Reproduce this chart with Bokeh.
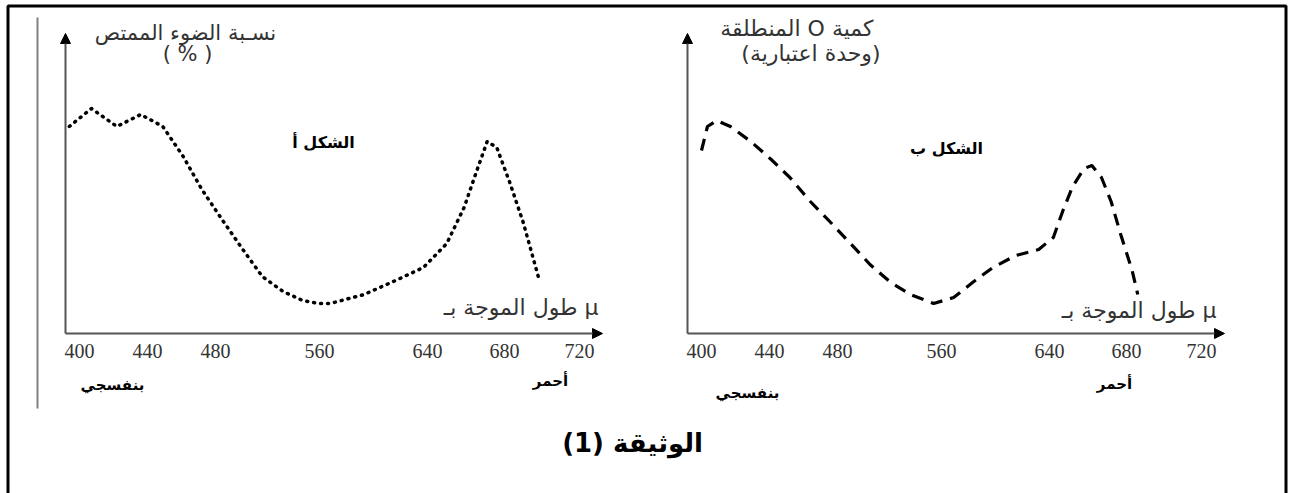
import numpy as np
from bokeh.plotting import figure
from bokeh.models import Range1d, LinearAxis, FixedTicker, Arrow, NormalHead, Label
from bokeh.embed import file_html
from bokeh.resources import INLINE

# ---------------- data ----------------
# x-axis tick labels (wavelength, nm) and their (non-linear) spacing along the drawn axis
tick_wl = [400, 440, 480, 560, 640, 680, 720]
tick_labels = ["400", "440", "480", "560", "640", "680", "720"]
tick_spacing = [14, 82, 150, 254, 362, 439, 514]

# Figure A: absorbed light (%) vs wavelength (dotted curve)
wl_a = [394, 407, 422, 436, 449, 461, 472, 485, 501, 516, 532, 547, 559, 568,
        593, 618, 637, 650, 659, 666, 671, 676, 683, 690, 698]
abs_a = [69, 75, 69, 73, 69, 59, 48, 38, 28, 19, 14, 11, 10, 10,
         13, 18, 22, 30, 42, 55, 64, 62, 50, 37, 19]

# Figure B: released O2 (arbitrary units) vs wavelength (dashed curve)
wl_b = [400, 403.5, 409, 417, 429, 441, 452, 464, 476, 490, 505, 521, 536, 554,
        569, 583, 598, 615, 632, 642, 647, 652, 658, 662, 667, 672, 677, 683, 686]
o2_b = [61, 69, 71, 69, 64, 58, 52, 44, 37, 30, 23, 17, 13, 10,
        12, 17, 22, 26, 28, 32, 41, 49, 55, 56, 52, 44, 33, 21, 13]


def to_axis(w):
    """Map wavelengths onto the drawn (piecewise-linear) wavelength axis."""
    w = np.asarray(w, dtype=float)
    tw = np.asarray(tick_wl, float)
    tp = np.asarray(tick_spacing, float)
    out = np.interp(w, tw, tp)
    lo = (tp[1] - tp[0]) / (tw[1] - tw[0])
    hi = (tp[-1] - tp[-2]) / (tw[-1] - tw[-2])
    out = np.where(w < tw[0], tp[0] + (w - tw[0]) * lo, out)
    out = np.where(w > tw[-1], tp[-1] + (w - tw[-1]) * hi, out)
    return out


# ---------------- canvas ----------------
W, H = 1292, 493
p = figure(width=W, height=H, x_range=Range1d(0, W), y_range=Range1d(-53.33, 111),
           output_backend="svg", toolbar_location=None, min_border=0,
           x_axis_type=None, y_axis_type=None)
p.outline_line_color = None
p.background_fill_color = "white"
p.border_fill_color = "white"
p.extra_x_ranges = {"L": Range1d(-65, W - 65), "R": Range1d(-687, W - 687)}
p.extra_y_ranges = {"px": Range1d(H, 0)}

# frame of the document
p.line(x=[7.5, 7.5, 1285.5, 1285.5], y=[H + 10, 5.5, 5.5, H + 10], y_range_name="px",
       line_color="black", line_width=3)
p.line(x=[37, 37], y=[17, 408], y_range_name="px", line_color="#808080", line_width=2)

AR = "DejaVu Sans"


def chart(rname, wl, vals, dash, width, cap, ytitle1, ytitle2, y_align, y1x, y2x,
          y1y, y2y, fig_label, fig_x, fig_y, xt_x, xt_y, violet_xy, red_xy, yfs):
    x = to_axis(wl)
    p.line(x=x, y=vals, x_range_name=rname, line_color="black", line_width=width,
           line_dash=dash, line_cap=cap, line_join="round")
    # axes with arrow heads
    p.add_layout(Arrow(x_start=0, y_start=0, x_end=0, y_end=100, x_range_name=rname,
                       line_color="#555555", line_width=2,
                       end=NormalHead(size=10, fill_color="black", line_color="black")))
    p.add_layout(Arrow(x_start=0, y_start=0, x_end=537, y_end=0, x_range_name=rname,
                       line_color="#555555", line_width=2,
                       end=NormalHead(size=10, fill_color="black", line_color="black")))
    ax = LinearAxis(x_range_name=rname, fixed_location=0,
                    ticker=FixedTicker(ticks=tick_spacing),
                    major_label_overrides={t: l for t, l in zip(tick_spacing, tick_labels)},
                    axis_line_color=None, major_tick_line_color=None,
                    minor_tick_line_color=None, major_label_standoff=4,
                    major_label_text_font="Liberation Serif",
                    major_label_text_font_size="20px",
                    major_label_text_color="#333333")
    p.add_layout(ax, "below")
    # texts
    p.add_layout(Label(x=y1x, y=y1y, x_range_name=rname, text=ytitle1, text_font=AR,
                       text_font_size=yfs, text_color="#333333", text_align=y_align,
                       text_baseline="middle"))
    p.add_layout(Label(x=y2x, y=y2y, x_range_name=rname, text=ytitle2, text_font=AR,
                       text_font_size=yfs, text_color="#333333", text_align=y_align,
                       text_baseline="middle"))
    p.add_layout(Label(x=fig_x, y=fig_y, x_range_name=rname, text=fig_label, text_font=AR,
                       text_font_size="16px", text_font_style="bold", text_color="black",
                       text_align="center", text_baseline="middle"))
    p.add_layout(Label(x=xt_x, y=xt_y, x_range_name=rname, text="طول الموجة بـ μ",
                       text_font=AR, text_font_size="22px", text_color="#333333",
                       text_align="right", text_baseline="middle"))
    p.add_layout(Label(x=violet_xy[0], y=violet_xy[1], x_range_name=rname, text="بنفسجي",
                       text_font=AR, text_font_size="15px", text_font_style="bold",
                       text_color="black", text_align="center", text_baseline="middle"))
    p.add_layout(Label(x=red_xy[0], y=red_xy[1], x_range_name=rname, text="أحمر",
                       text_font=AR, text_font_size="15px", text_font_style="bold",
                       text_color="black", text_align="center", text_baseline="middle"))


chart("L", wl_a, abs_a, "1 6", 3.5, "round", "نسـبة الضوء الممتص", "( % )", "center",
      120, 122, 100.3, 93.3, "الشكل أ", 258, 63.7, 533, 8.7, (47, -17), (485, -15.7), "21px")
chart("R", wl_b, o2_b, "12 8", 3.2, "butt", "المنطلقة  O كمية", "(وحدة اعتبارية)", "right",
      193, 193, 101.7, 93.3, "الشكل ب", 259, 61.7, 529, 7.7, (60, -19.7), (427, -16.7), "22px")

p.add_layout(Label(x=632, y=442, y_range_name="px", text="الوثيقة (1)", text_font=AR,
                   text_font_size="26px", text_font_style="bold", text_color="black",
                   text_align="center", text_baseline="middle"))

open("out.html", "w").write(file_html(p, INLINE))
